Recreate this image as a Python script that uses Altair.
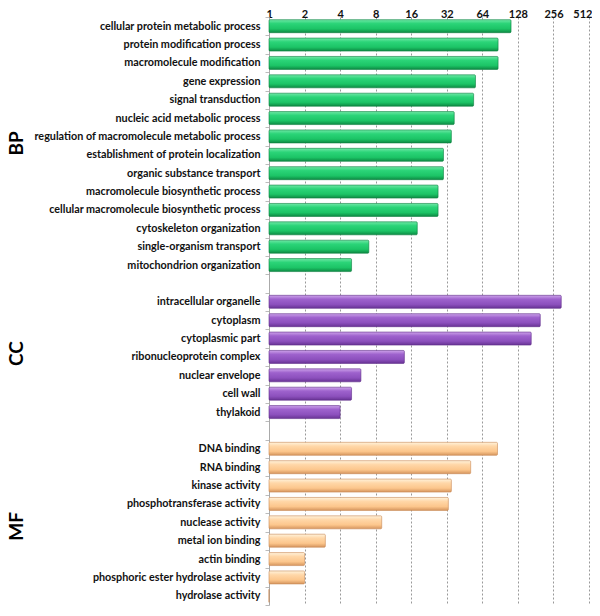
import altair as alt
import pandas as pd

bp_terms = [
    "cellular protein metabolic process",
    "protein modification process",
    "macromolecule modification",
    "gene expression",
    "signal transduction",
    "nucleic acid metabolic process",
    "regulation of macromolecule metabolic process",
    "establishment of protein localization",
    "organic substance transport",
    "macromolecule biosynthetic process",
    "cellular macromolecule biosynthetic process",
    "cytoskeleton organization",
    "single-organism transport",
    "mitochondrion organization",
]
bp_counts = [112, 87, 87, 56, 54, 37, 35, 30, 30, 27, 27, 18, 7, 5]

cc_terms = [
    "intracellular organelle",
    "cytoplasm",
    "cytoplasmic part",
    "ribonucleoprotein complex",
    "nuclear envelope",
    "cell wall",
    "thylakoid",
]
cc_counts = [298, 198, 166, 14, 6, 5, 4]

mf_terms = [
    "DNA binding",
    "RNA binding",
    "kinase activity",
    "phosphotransferase activity",
    "nuclease activity",
    "metal ion binding",
    "actin binding",
    "phosphoric ester hydrolase activity",
    "hydrolase activity",
]
mf_counts = [86, 51, 35, 33, 9, 3, 2, 2, 1]

x_ticks = [1, 2, 4, 8, 16, 32, 64, 128, 256, 512]

groups = ["BP", "CC", "MF"]
group_anchor = ["regulation of macromolecule metabolic process", "cytoplasmic part", "nuclease activity"]
group_shift = [-7, -15, -4]

gap1 = " "
gap2 = "  "
row_order = bp_terms + [gap1] + cc_terms + [gap2] + mf_terms

rows = []
for g, terms, counts in [("BP", bp_terms, bp_counts), ("CC", cc_terms, cc_counts), ("MF", mf_terms, mf_counts)]:
    for t, c in zip(terms, counts):
        rows.append({"group": g, "term": t, "count": c})
df = pd.DataFrame(rows)

lab_df = pd.DataFrame({"group": groups, "term": group_anchor})

FONT = "Lato"

grad = {
    "BP": {"gradient": "linear", "x1": 0, "y1": 0, "x2": 0, "y2": 1,
           "stops": [{"offset": 0, "color": "#6fe8a6"}, {"offset": 0.3, "color": "#2bd478"},
                     {"offset": 0.7, "color": "#1cc466"}, {"offset": 1, "color": "#0d8a43"}]},
    "CC": {"gradient": "linear", "x1": 0, "y1": 0, "x2": 0, "y2": 1,
           "stops": [{"offset": 0, "color": "#cda3ea"}, {"offset": 0.3, "color": "#9e62cd"},
                     {"offset": 0.7, "color": "#8c50bd"}, {"offset": 1, "color": "#683394"}]},
    "MF": {"gradient": "linear", "x1": 0, "y1": 0, "x2": 0, "y2": 1,
           "stops": [{"offset": 0, "color": "#fff3dc"}, {"offset": 0.3, "color": "#ffd7a8"},
                     {"offset": 0.7, "color": "#fcc68c"}, {"offset": 1, "color": "#d5955e"}]},
}
edge = {"BP": "#0b8040", "CC": "#5f2d8a", "MF": "#c98a55"}

y_enc = alt.Y(
    "term:N",
    scale=alt.Scale(domain=row_order, paddingInner=0, paddingOuter=0),
    axis=alt.Axis(
        title=None, labelFont=FONT, labelFontWeight="bold", labelFontSize=10.8,
        labelColor="#111", tickBand="extent", tickSize=4, tickColor="#bbbbbb",
        domainColor="#aaaaaa", labelPadding=5, grid=False, labelLimit=400,
    ),
)
x_enc = alt.X(
    "count:Q",
    scale=alt.Scale(type="log", base=2, domain=[1, 512], nice=False),
    axis=alt.Axis(
        orient="top", values=x_ticks, title=None, labelFont=FONT, labelFontWeight="bold",
        labelFontSize=11, labelColor="#111", ticks=False, domain=False, labelPadding=-2,
        grid=True, gridDash=[2, 2], gridColor="#999999", gridWidth=1, format="d",
        labelFlush=True, labelFlushOffset=3,
    ),
)

layers = []
for g in groups:
    layers.append(
        alt.Chart(df).transform_filter(alt.datum.group == g).mark_bar(
            size=13, color=grad[g], stroke=edge[g], strokeWidth=0.6, cornerRadius=1
        ).encode(x=x_enc, x2=alt.X2(datum=1), y=y_enc)
    )

for g, sh in zip(groups, group_shift):
    layers.append(
        alt.Chart(lab_df).transform_filter(alt.datum.group == g).mark_text(
            angle=270, font=FONT, fontWeight="bold", fontSize=19, align="center",
            baseline="middle", color="#000", dx=sh
        ).encode(
            y=y_enc,
            x=alt.value(-252),
            text="group:N",
        )
    )

chart = alt.layer(*layers).properties(width=320, height=588, padding=0).configure_view(stroke=None)

chart.save("out.html", embed_options={"renderer": "svg", "actions": False})
